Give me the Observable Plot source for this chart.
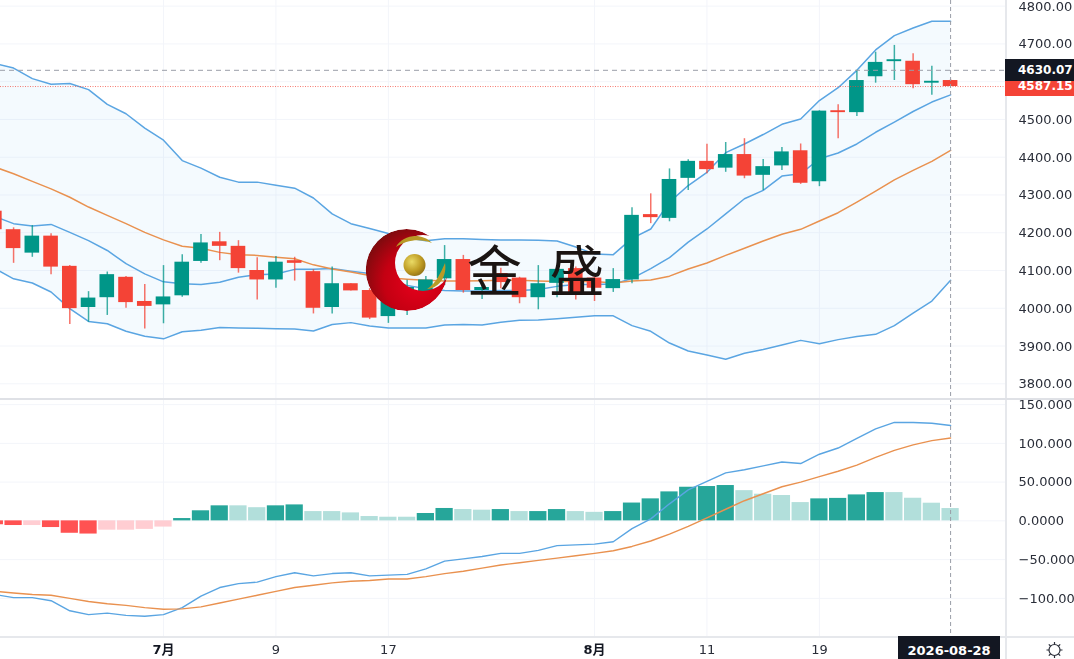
<!DOCTYPE html>
<html>
<head>
<meta charset="utf-8">
<script src="https://cdn.jsdelivr.net/npm/d3@7"></script>
<script src="https://cdn.jsdelivr.net/npm/@observablehq/plot@0.6"></script>
<style>
  html, body { margin: 0; padding: 0; background: #fff; }
  #chart { position: relative; width: 1074px; height: 659px; overflow: hidden; font-family: "DejaVu Sans", sans-serif; filter: blur(0.35px); }
  #chart > svg { position: absolute; left: 0; display: block; }
  .box { position: absolute; left: 1005px; width: 69px; color: #fff; font-size: 12px; font-weight: 700; box-sizing: border-box; padding-left: 13px; white-space: nowrap; }
  .line { position: absolute; background: #e6e8ec; }
</style>
</head>
<body>
<div id="chart"></div>
<script>
// Bar index: 0 is the first session of July, 42 is the last one drawn.
const firstIndex = -9;
const opens  = [4257,4208,4146,4191,4111,4002,4028,4082,4018,4009,4033,4124,4176,4164,4100,4075,4126,4097,4002,4065,4047,3978,4013,4042,4078,4129,4047,4092,4080,4028,4066,4105,4080,4052,4075,4248,4238,4344,4389,4371,4407,4352,4377,4417,4335,4523,4518,4613,4653,4654,4596,4603];
const highs  = [4259,4213,4219,4197,4113,4044,4096,4084,4063,4113,4142,4195,4201,4179,4134,4137,4135,4102,4109,4065,4052,4060,4074,4084,4166,4140,4068,4106,4082,4113,4106,4109,4085,4105,4266,4303,4369,4393,4434,4439,4449,4394,4426,4435,4523,4539,4630,4678,4696,4674,4641,4605];
const lows   = [4200,4119,4135,4089,3957,3963,3981,4000,3945,3959,4029,4119,4126,4093,4022,4053,4072,3985,3985,4046,3970,3960,3981,4034,4060,4040,4023,4052,4012,3996,4028,4022,4018,4042,4065,4224,4229,4312,4356,4360,4343,4312,4365,4328,4322,4449,4508,4596,4603,4581,4564,4587.15];
const closes = [4208,4158,4191,4109,3999,4027,4089,4015,4005,4030,4122,4173,4164,4105,4075,4122,4119,4000,4065,4046,3974,4044,4055,4075,4129,4047,4055,4068,4028,4065,4103,4039,4053,4076,4246,4240,4341,4389,4367,4407,4350,4375,4414,4331,4522,4518,4603,4651,4658,4592,4601,4587.15];

const bollUpper = [4648,4636,4608,4593,4595,4579,4540,4515,4477,4445,4391,4371,4347,4334,4334,4326,4318,4292,4250,4224,4211,4198,4187,4179,4184,4184,4182,4181,4181,4180,4178,4162,4144,4142,4185,4210,4281,4325,4360,4412,4435,4460,4487,4501,4550,4584,4630,4684,4722,4742,4760,4760];
const bollMid   = [4374,4356,4336,4316,4294,4268,4246,4224,4201,4181,4164,4159,4148,4142,4140,4135,4131,4115,4104,4096,4087,4081,4077,4074,4072,4072,4073,4074,4074,4072,4071,4071,4071,4067,4072,4075,4085,4104,4120,4140,4159,4178,4196,4209,4231,4253,4281,4310,4340,4365,4389,4418];
const bollFast  = [4243,4224,4218,4222,4201,4179,4153,4118,4091,4070,4065,4063,4069,4082,4089,4091,4103,4103,4105,4098,4092,4076,4060,4052,4047,4046,4046,4047,4047,4050,4058,4063,4063,4064,4079,4105,4134,4175,4210,4250,4290,4312,4350,4356,4396,4411,4435,4466,4493,4521,4546,4565];
const bollLower = [4105,4078,4067,4043,3999,3965,3959,3939,3926,3919,3938,3942,3949,3948,3947,3946,3945,3940,3957,3962,3953,3948,3948,3948,3956,3957,3956,3963,3968,3969,3972,3976,3980,3980,3954,3939,3908,3887,3876,3865,3881,3891,3903,3915,3906,3917,3925,3931,3954,3987,4019,4074];

const macdHist = [-5,-6,-6,-8.6,-16,-17,-12,-12,-11,-8,3,13,19.4,19.4,17,19.4,20.6,12,12,10.3,5.6,4.7,4.7,9.5,16,14.6,13.8,14.6,12,12,14.6,12,11,12,23,28.4,37.4,43.4,44.3,45.6,39,34.4,32.7,23.6,28.4,29,33.5,36.5,36.5,29.2,22.8,15.9];
const histDark = [1,1,0,1,1,1,0,0,0,0,1,1,1,0,0,1,1,0,0,0,0,0,0,1,1,0,0,1,0,1,1,0,0,1,1,1,1,1,1,1,0,0,0,0,1,1,1,1,0,0,0,0];
const macdDif  = [-95,-99,-99,-103,-116,-121,-119,-122,-123,-121,-112,-97,-86,-81,-79,-72,-67,-71,-68,-67,-71,-70,-69,-62,-52,-49,-46,-42,-42,-38,-32,-31,-30,-27,-10,2.6,22,40,51,62,66,71,76,74,86,94,106.5,118.6,127,127,126,123];
const macdDea  = [-91,-93,-95,-96,-100,-104,-107,-109,-112,-114,-113.5,-111,-106,-101,-96,-91,-86,-83,-80,-78,-77,-75,-75,-72,-68,-65,-61,-57,-54,-51,-48,-45,-42,-38.5,-33,-26,-17,-7,4,15,26,35,44,50,57,64,72,82,91,98,103.5,107];

const priceTicks  = [3800,3900,4000,4100,4200,4300,4400,4500,4600,4700,4800];
const priceLabelTicks = [3800,3900,4000,4100,4200,4300,4400,4500,4700,4800];
const macdTicks   = [150,100,50,0,-50,-100];
const macdLabels  = ["150.000","100.000","50.0000","0.0000","−50.000","−100.00"];
const timeMajor   = [0,23];
const timeMajorLabels = ["7月","8月"];
const timeMinor   = [6,12,29,35];
const timeMinorLabels = ["9","17","11","19"];
const crossPrice = 4630.07, lastPrice = 4587.15, crossIndex = 42, crossDate = "2026-08-28";
const logoText = "金 盛";

const UP = "#009688", DOWN = "#f44336", GRID = "#f3f5fa", BLUE = "#5aa5e2", ORANGE = "#e9914f", CROSS = "#9a9ea8";
const rows = opens.map((o, k) => ({
  i: firstIndex + k, o, h: highs[k], l: lows[k], c: closes[k],
  up: bollUpper[k], mid: bollMid[k], fast: bollFast[k], low: bollLower[k],
  hist: macdHist[k], dark: histDark[k], dif: macdDif[k], dea: macdDea[k]
}));
const xDomain = [-8.698, 44.93], CHART_W = 1074, RIGHT = 69;
const baseStyle = { fontFamily: '"DejaVu Sans", "Noto Sans CJK SC", sans-serif', fontSize: "13px", color: "#2a2e39", background: "transparent" };
const candleColor = d => d.c >= d.o ? UP : DOWN;

const main = Plot.plot({
  width: CHART_W, height: 398, marginLeft: 0, marginRight: RIGHT, marginTop: 0, marginBottom: 0,
  style: baseStyle,
  x: { domain: xDomain, axis: null },
  y: { domain: [3761.1, 4814.9] },
  marks: [
    Plot.gridY(priceTicks, { stroke: GRID, strokeOpacity: 1 }),
    Plot.gridX([...timeMajor, ...timeMinor], { stroke: GRID, strokeOpacity: 1 }),
    Plot.areaY(rows, { x: "i", y1: "low", y2: "up", fill: "#2196f3", fillOpacity: 0.05, clip: true }),
    Plot.line(rows, { x: "i", y: "up", stroke: BLUE, strokeWidth: 1.5, clip: true }),
    Plot.line(rows, { x: "i", y: "fast", stroke: BLUE, strokeWidth: 1.5, clip: true }),
    Plot.line(rows, { x: "i", y: "low", stroke: BLUE, strokeWidth: 1.5, clip: true }),
    Plot.line(rows, { x: "i", y: "mid", stroke: ORANGE, strokeWidth: 1.5, clip: true }),
    Plot.ruleX(rows, { x: "i", y1: "l", y2: "h", stroke: candleColor, strokeWidth: 1.5, strokeOpacity: 0.75, clip: true }),
    Plot.rect(rows, { x1: d => d.i - 0.39, x2: d => d.i + 0.39, y1: d => Math.min(d.o, d.c), y2: d => Math.max(d.o, d.c), fill: candleColor, clip: true }),
    Plot.ruleY([lastPrice], { stroke: DOWN, strokeWidth: 1, strokeDasharray: "1 1.5", strokeOpacity: 0.7 }),
    Plot.ruleY([crossPrice], { stroke: CROSS, strokeWidth: 1, strokeDasharray: "5 4" }),
    Plot.ruleX([crossIndex], { stroke: CROSS, strokeWidth: 1, strokeDasharray: "4 3" }),
    Plot.axisY({ ticks: priceLabelTicks, anchor: "right", tickSize: 0, tickPadding: 13, label: null, dy: 0.3, tickFormat: d => d.toFixed(2), fill: "#2a2e39" })
  ]
});
main.style.top = "0px";

const lower = Plot.plot({
  width: CHART_W, height: 261, marginLeft: 0, marginRight: RIGHT, marginTop: 0, marginBottom: 23,
  style: baseStyle,
  x: { domain: xDomain, axis: null },
  y: { domain: [-149.2, 157.9] },
  marks: [
    Plot.gridY(macdTicks, { stroke: GRID, strokeOpacity: 1 }),
    Plot.gridX([...timeMajor, ...timeMinor], { stroke: GRID, strokeOpacity: 1 }),
    Plot.rect(rows, {
      x1: d => d.i - 0.46, x2: d => d.i + 0.46,
      y1: 0, y2: "hist", clip: true,
      fill: d => d.hist >= 0 ? (d.dark ? "#26a69a" : "#b2dfdb") : (d.dark ? "#ff5252" : "#ffcdd2")
    }),
    Plot.line(rows, { x: "i", y: "dif", stroke: BLUE, strokeWidth: 1.4, clip: true }),
    Plot.line(rows, { x: "i", y: "dea", stroke: ORANGE, strokeWidth: 1.4, clip: true }),
    Plot.ruleX([crossIndex], { stroke: CROSS, strokeWidth: 1, strokeDasharray: "4 3" }),
    Plot.axisY({ ticks: macdTicks, anchor: "right", tickSize: 0, tickPadding: 13, label: null, tickFormat: d => macdLabels[macdTicks.indexOf(d)], fill: "#2a2e39" }),
    Plot.axisX({ ticks: timeMinor, anchor: "bottom", tickSize: 0, tickPadding: 8, label: null, tickFormat: d => timeMinorLabels[timeMinor.indexOf(d)], fill: "#2a2e39" }),
    Plot.axisX({ ticks: timeMajor, anchor: "bottom", tickSize: 0, tickPadding: 8, label: null, tickFormat: d => timeMajorLabels[timeMajor.indexOf(d)], fill: "#131722", fontWeight: "bold" })
  ]
});
lower.style.top = "398px";

const chart = document.getElementById("chart");
chart.append(main, lower);

// Pane borders
const addLine = (css) => { const e = document.createElement("div"); e.className = "line"; e.style.cssText = css; chart.append(e); };
addLine("left:1005px;top:0;width:2px;height:659px;");
addLine("left:0;top:398px;width:1074px;height:2px;background:#dfe1e6;");
addLine("left:0;top:636px;width:1074px;height:1.5px;");

// Price and date tags follow the scales: the red tag sits below the dark one
const py = main.scale("y").apply;
const crossY = py(crossPrice), lastY = py(lastPrice);
const darkBottom = crossY + 11.5;
const addBox = (value, color, top, height, textCentre) => {
  const e = document.createElement("div");
  e.className = "box"; e.textContent = value.toFixed(2);
  const lh = 2 * (textCentre - top);
  e.style.cssText = `top:${top}px;height:${height}px;line-height:${lh}px;background:${color};`;
  chart.append(e);
};
addBox(crossPrice, "#131722", crossY - 10.5, 22, crossY + 1);
addBox(lastPrice, DOWN, darkBottom, lastY + 10 - darkBottom, lastY + 1);

const tag = document.createElement("div");
const tx = main.scale("x").apply(crossIndex);
tag.textContent = crossDate;
tag.style.cssText = `position:absolute;left:${tx - 52}px;top:636px;width:102px;height:23px;line-height:30px;text-align:center;background:#131722;color:#fff;font-size:13px;font-weight:600;`;
chart.append(tag);

// Watermark and settings icon
const deco = document.createElement("div");
deco.innerHTML = `
<svg width="1074" height="659" style="position:absolute;left:0;top:0;pointer-events:none" xmlns="http://www.w3.org/2000/svg">
  <defs>
    <radialGradient id="red" gradientUnits="userSpaceOnUse" cx="418" cy="282" r="62">
      <stop offset="0" stop-color="#e8001c"/><stop offset="0.55" stop-color="#c40012"/><stop offset="1" stop-color="#6e0d0d"/>
    </radialGradient>
    <radialGradient id="gold" cx="0.38" cy="0.35" r="0.75">
      <stop offset="0" stop-color="#eadb66"/><stop offset="0.6" stop-color="#bd9a22"/><stop offset="1" stop-color="#8a6a14"/>
    </radialGradient>
    <mask id="cres"><rect width="1074" height="659" fill="#000"/><circle cx="406.7" cy="270" r="41" fill="#fff"/><circle cx="423" cy="263" r="28" fill="#000"/></mask>
  </defs>
  <circle cx="406.7" cy="270" r="41" fill="url(#red)" mask="url(#cres)"/>
  <circle cx="414.5" cy="265" r="11" fill="url(#gold)"/>
  <path d="M396 247 C 402 236, 420 231, 432 243 C 420 238, 406 240, 396 247 Z" fill="#b89a26"/>
  <path d="M427 289 C 436 284, 441 272, 445 263 C 447 274, 441 288, 427 289 Z" fill="#b89a26"/>
  <text x="467" y="291" text-anchor="start" font-family="'Noto Sans CJK SC'" font-size="55" font-weight="400" fill="#1a1412" word-spacing="15">${logoText}</text>
  <g fill="none" stroke="#2a2e39" stroke-width="1.2" transform="translate(1054.5 650)">
    <circle r="5.5"/>
    <path d="M0 -8V-5.5M0 8V5.5M-8 0H-5.5M8 0H5.5M-5.7 -5.7L-4 -4M5.7 -5.7L4 -4M-5.7 5.7L-4 4M5.7 5.7L4 4"/>
  </g>
</svg>`;
chart.append(deco);
</script>
</body>
</html>
